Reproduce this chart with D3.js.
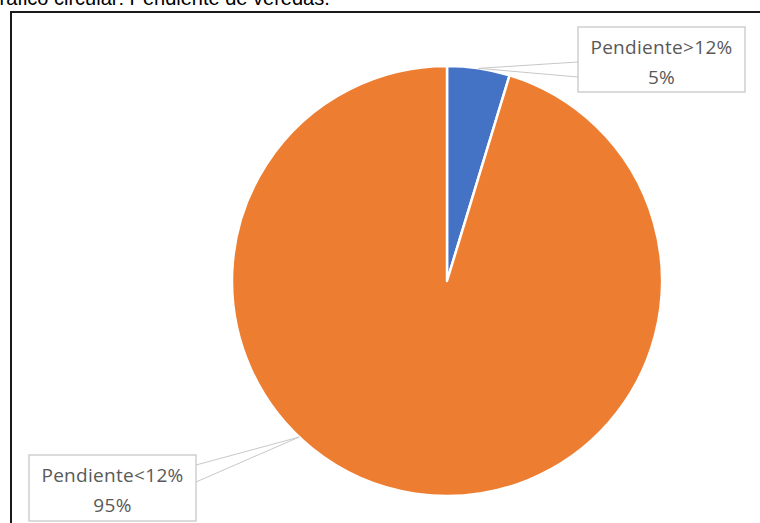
<!DOCTYPE html>
<html>
<head>
<meta charset="utf-8">
<script src="https://d3js.org/d3.v7.min.js"></script>
<style>
  body { margin: 0; background: #fff; }
  svg { display: block; }
</style>
</head>
<body>
<svg id="chart" width="760" height="523"></svg>
<script>
// data
var categories = ["Pendiente>12%", "Pendiente<12%"];
var values = [4.7, 95.3];
var pctLabels = ["5%", "95%"];
var colors = ["#4472C4", "#ED7D31"];

var svg = d3.select("#chart");

// caption above the frame (cut off at the top in the source)
svg.append("text")
  .attr("x", -16).attr("y", 5)
  .attr("font-family", "Liberation Sans, Arial, sans-serif")
  .attr("font-size", 20)
  .attr("fill", "#000")
  .text("Gráfico circular: Pendiente de veredas.");

// chart frame
svg.append("rect")
  .attr("x", 11).attr("y", 12)
  .attr("width", 800).attr("height", 600)
  .attr("fill", "#fff")
  .attr("stroke", "#1a1a1a")
  .attr("stroke-width", 2);

var cx = 447, cy = 281, r = 215;

var pie = d3.pie().sort(null).value(function(d) { return d; });
var arcs = pie(values);
var arc = d3.arc().innerRadius(0).outerRadius(r);

var g = svg.append("g").attr("transform", "translate(" + cx + "," + cy + ")");
g.selectAll("path")
  .data(arcs)
  .enter()
    .append("path")
      .attr("d", arc)
      .attr("fill", function(d, i) { return colors[i]; })
      .attr("stroke", "#fff")
      .attr("stroke-width", 2.5)
      .attr("stroke-linejoin", "round");

// callout boxes placed as in the source; tip = where the leader meets the rim
var boxes = [
  { x: 578, y: 27, w: 167, h: 65, tip: 0.5, side: "left", y1: 35, y2: 50 },
  { x: 29, y: 455, w: 167, h: 66, tip: 0.602, side: "right", y1: 10, y2: 27 }
];

function tipPoint(d, b) {
  var a = d.startAngle + (d.endAngle - d.startAngle) * b.tip;
  return [cx + Math.sin(a) * r, cy - Math.cos(a) * r];
}

var labels = svg.selectAll("g.label")
  .data(arcs)
  .enter()
    .append("g").attr("class", "label");

labels.append("polyline")
  .attr("points", function(d, i) {
    var b = boxes[i];
    var t = tipPoint(d, b);
    var ex = b.side === "left" ? b.x : b.x + b.w;
    return [[ex, b.y + b.y1], t, [ex, b.y + b.y2]].map(function(p) { return p.join(","); }).join(" ");
  })
  .attr("fill", "none")
  .attr("stroke", "#c8c8c8")
  .attr("stroke-width", 1);

labels.append("rect")
  .attr("x", function(d, i) { return boxes[i].x; })
  .attr("y", function(d, i) { return boxes[i].y; })
  .attr("width", function(d, i) { return boxes[i].w; })
  .attr("height", function(d, i) { return boxes[i].h; })
  .attr("fill", "#fff")
  .attr("stroke", "#c8c8c8")
  .attr("stroke-width", 1.3);

labels.append("text")
  .attr("x", function(d, i) { return boxes[i].x + boxes[i].w / 2; })
  .attr("y", function(d, i) { return boxes[i].y + 27; })
  .attr("text-anchor", "middle")
  .attr("font-family", "Open Sans, sans-serif")
  .attr("font-size", 19)
  .attr("letter-spacing", 0.3)
  .attr("fill", "#595959")
  .text(function(d, i) { return categories[i]; });

labels.append("text")
  .attr("x", function(d, i) { return boxes[i].x + boxes[i].w / 2; })
  .attr("y", function(d, i) { return boxes[i].y + 57; })
  .attr("text-anchor", "middle")
  .attr("font-family", "Open Sans, sans-serif")
  .attr("font-size", 19)
  .attr("letter-spacing", 0.3)
  .attr("fill", "#595959")
  .text(function(d, i) { return pctLabels[i]; });
</script>
</body>
</html>
